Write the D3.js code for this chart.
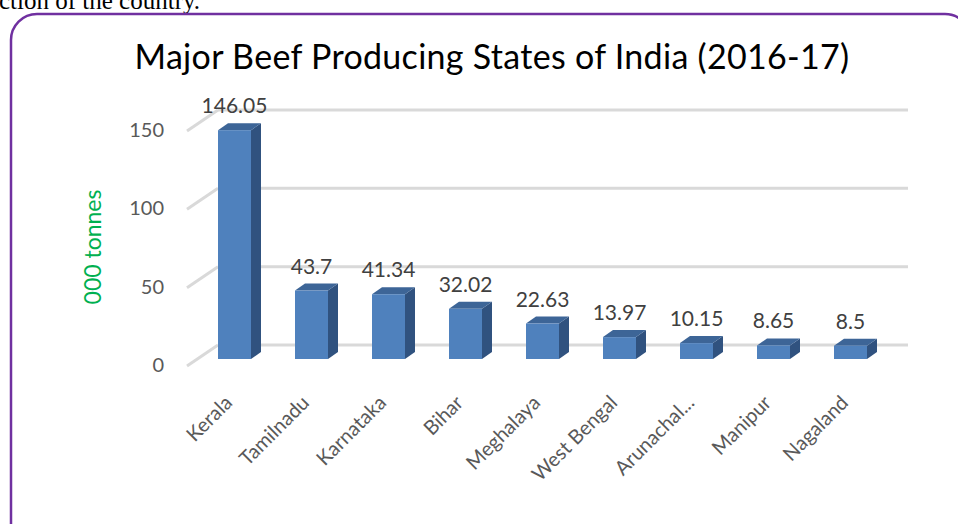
<!DOCTYPE html>
<html><head><meta charset="utf-8">
<script src="https://cdn.jsdelivr.net/npm/d3@7"></script>
<style>
html,body{margin:0;padding:0;background:#fff;overflow:hidden;}
svg{display:block;}
</style></head>
<body>
<script>
const categories = ["Kerala","Tamilnadu","Karnataka","Bihar","Meghalaya","West Bengal","Arunachal...","Manipur","Nagaland"];
const values = [146.05,43.7,41.34,32.02,22.63,13.97,10.15,8.65,8.5];
const valueLabels = ["146.05","43.7","41.34","32.02","22.63","13.97","10.15","8.65","8.5"];
const yTicks = [0,50,100,150];
const title = "Major Beef Producing States of India (2016-17)";
const yTitle = "000 tonnes";
const topText = "ction of the country.";

const W = 958, H = 524;
const svg = d3.select("body").append("svg").attr("width", W).attr("height", H);

// page text fragment above the box
svg.append("text").attr("x", -1).attr("y", 9)
  .attr("font-family", "'Liberation Serif', serif").attr("font-size", 25)
  .attr("fill", "#000").text(topText);

// purple rounded frame
svg.append("rect").attr("x", 11).attr("y", 14).attr("width", 960).attr("height", 540)
  .attr("rx", 26).attr("ry", 26).attr("fill", "none")
  .attr("stroke", "#7030a0").attr("stroke-width", 2.5);

// title
svg.append("text").attr("x", 492).attr("y", 69).attr("text-anchor", "middle")
  .attr("font-family", "Lato, 'Open Sans', sans-serif").attr("font-size", 34)
  .attr("letter-spacing", 0.3)
  .attr("fill", "#000").text(title);

const x = d3.scaleBand().domain(categories).range([196, 889]);
const y = d3.scaleLinear().domain([0, 150]).range([359, 124]);
const barW = 33, dx = 10, dy = 7, back = 14, diagX = 31, diagY = 21;

// gridlines (back wall + side diagonal)
const grid = svg.append("g");
yTicks.forEach(v => {
  const yb = y(v) - back;
  grid.append("line").attr("x1", 187 + diagX).attr("x2", 908).attr("y1", yb).attr("y2", yb)
    .attr("stroke", "#d9d9d9").attr("stroke-width", 3);
  grid.append("line").attr("x1", 187).attr("y1", yb + diagY).attr("x2", 187 + diagX).attr("y2", yb)
    .attr("stroke", "#d9d9d9").attr("stroke-width", 3);
});

// y axis labels
const yAxis = svg.append("g").attr("transform", "translate(164,6)")
  .call(d3.axisLeft(y).tickValues(yTicks).tickSize(0).tickPadding(0));
yAxis.select(".domain").remove();
yAxis.selectAll("text").attr("font-family", "Lato, 'Open Sans', sans-serif")
  .attr("font-size", 20).attr("fill", "#595959");

// y title
svg.append("text").attr("transform", "translate(101,247) rotate(-90)")
  .attr("text-anchor", "middle").attr("font-family", "Lato, 'Open Sans', sans-serif")
  .attr("font-size", 23).attr("fill", "#00b050").text(yTitle);

// bars
const bars = svg.append("g");
categories.forEach((c, i) => {
  const cx = x(c) + x.bandwidth() / 2;
  const x0 = cx - barW / 2, x1 = cx + barW / 2;
  const y0 = y(0), y1 = y(values[i]);
  bars.append("polygon").attr("points",
    [[x1, y0], [x1 + dx, y0 - dy], [x1 + dx, y1 - dy], [x1, y1]].map(p => p.join(",")).join(" "))
    .attr("fill", "#30527f");
  bars.append("polygon").attr("points",
    [[x0, y1], [x0 + dx, y1 - dy], [x1 + dx, y1 - dy], [x1, y1]].map(p => p.join(",")).join(" "))
    .attr("fill", "#3d6597");
  bars.append("rect").attr("x", x0).attr("y", y1).attr("width", barW).attr("height", y0 - y1)
    .attr("fill", "#4f81bd");
  svg.append("text").attr("x", cx).attr("y", y1 - 17).attr("text-anchor", "middle")
    .attr("font-family", "Lato, 'Open Sans', sans-serif").attr("font-size", 21)
    .attr("fill", "#404040").text(valueLabels[i]);
});

// category axis
const xAxis = svg.append("g").attr("transform", "translate(0,380)")
  .call(d3.axisBottom(x).tickSize(0).tickPadding(0));
xAxis.select(".domain").remove();
xAxis.selectAll("text")
  .attr("font-family", "Lato, 'Open Sans', sans-serif").attr("font-size", 20).attr("fill", "#595959")
  .attr("text-anchor", "end").attr("dy", 0).attr("y", 0)
  .attr("transform", "translate(-1,24) rotate(-45)");
</script>
</body></html>
